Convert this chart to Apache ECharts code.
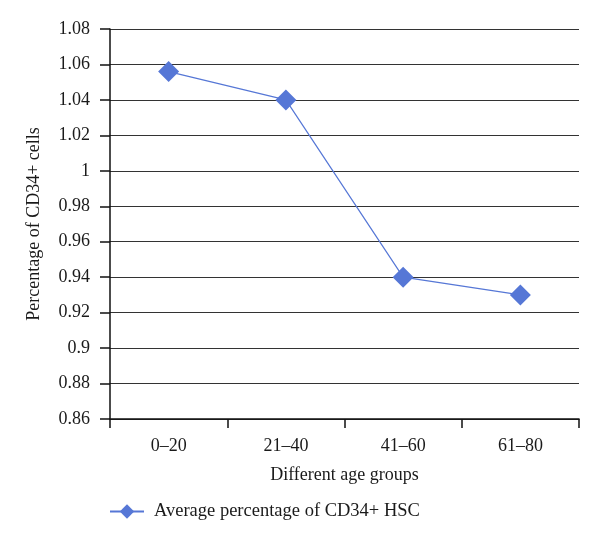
<!DOCTYPE html>
<html>
<head>
<meta charset="utf-8">
<script src="https://cdn.jsdelivr.net/npm/echarts@6/dist/echarts.min.js"></script>
<style>html,body{margin:0;padding:0;background:#fff}#c{width:600px;height:537px}</style>
</head>
<body>
<div id="c"></div>
<script>
var categories = ['0–20', '21–40', '41–60', '61–80'];
var avgCD34 = [1.056, 1.040, 0.940, 0.930];
var seriesName = 'Average percentage of CD34+ HSC';
var yMin = 0.86, yMax = 1.08, yStep = 0.02;

var font = 'Liberation Serif';
var chart = echarts.init(document.getElementById('c'));
chart.setOption({
  animation: false,
  backgroundColor: '#fff',
  textStyle: { fontFamily: font },
  grid: { left: 110, right: 21, top: 29, bottom: 118 },
  legend: {
    data: [seriesName],
    left: 104, top: 497,
    itemWidth: 34, itemHeight: 18,
    textStyle: { fontFamily: font, fontSize: 18.5, color: '#1a1a1a', padding: [0,0,0,5] }
  },
  xAxis: {
    type: 'category',
    data: categories,
    boundaryGap: true,
    name: 'Different age groups',
    nameLocation: 'middle',
    nameGap: 47,
    nameTextStyle: { fontFamily: font, fontSize: 18, color: '#1a1a1a' },
    axisLine: { lineStyle: { color: '#111', width: 1.5 } },
    axisTick: { show: true, length: 9, lineStyle: { color: '#111', width: 1.5 } },
    axisLabel: { fontFamily: font, fontSize: 18, color: '#1a1a1a', margin: 18 }
  },
  yAxis: {
    type: 'value',
    min: yMin, max: yMax, interval: yStep,
    name: 'Percentage of CD34+ cells',
    nameLocation: 'middle',
    nameGap: 67,
    nameTextStyle: { fontFamily: font, fontSize: 18, color: '#1a1a1a' },
    axisLine: { show: true, lineStyle: { color: '#111', width: 1.5 } },
    axisTick: { show: true, length: 10, lineStyle: { color: '#111', width: 1.5 } },
    axisLabel: {
      fontFamily: font, fontSize: 18, color: '#1a1a1a', margin: 20,
      formatter: function (v) { return String(parseFloat(v.toFixed(2))); }
    },
    splitLine: { show: true, lineStyle: { color: '#333', width: 1.2 } }
  },
  series: [{
    name: seriesName,
    type: 'line',
    data: avgCD34,
    symbol: 'diamond',
    symbolSize: 21,
    itemStyle: { color: '#5677D6' },
    lineStyle: { color: '#5677D6', width: 1.2 }
  }]
});
</script>
</body>
</html>
